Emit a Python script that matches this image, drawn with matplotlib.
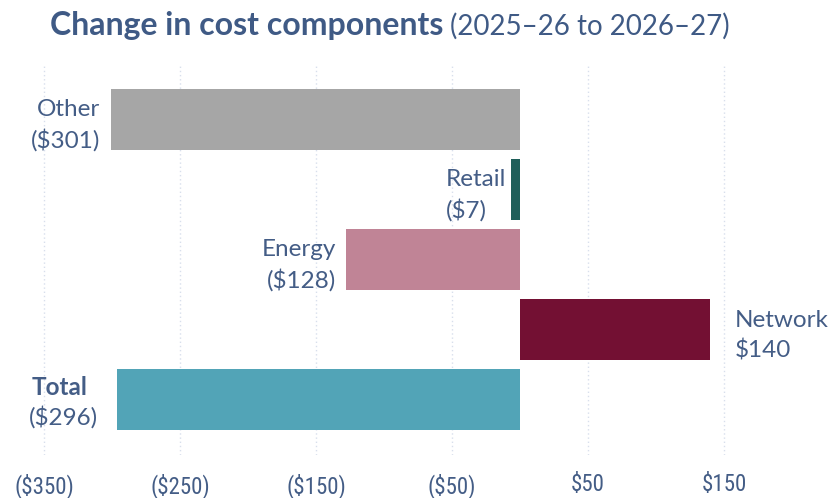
import matplotlib.pyplot as plt
from matplotlib import font_manager

# data
categories = ['Other', 'Retail', 'Energy', 'Network', 'Total']
values = [-301, -7, -128, 140, -296]
value_labels = ['($301)', '($7)', '($128)', '$140', '($296)']
colors = ['#a6a6a6', '#1f5f5a', '#c08496', '#731033', '#52a4b7']
tick_values = [-350, -250, -150, -50, 50, 150]
tick_labels = ['($350)', '($250)', '($150)', '($50)', '$50', '$150']

text_color = '#445d86'
installed = {f.name for f in font_manager.fontManager.ttflist}
base_font = 'Lato' if 'Lato' in installed else 'DejaVu Sans'
narrow = [n for n in ('Liberation Sans Narrow', 'Roboto Condensed', 'Open Sans Condensed') if n in installed]
tick_font = narrow[0] if narrow else base_font
tick_size = 16.5 if narrow else 15
plt.rcParams['font.family'] = [base_font, 'DejaVu Sans']

fig = plt.figure(figsize=(8.29, 4.98), dpi=100)
ax = fig.add_axes([0, 0.086, 1, 0.783])

ypos = list(range(len(categories)))
ax.barh(ypos, values, height=0.87, color=colors, zorder=3)

ax.set_xlim(-382.4, 227.2)
ax.set_ylim(4.79, -0.78)

ax.set_xticks(tick_values)
ax.set_xticklabels(tick_labels, fontsize=tick_size, color=text_color, family=tick_font)
ax.tick_params(axis='x', length=0, pad=13)
ax.set_yticks([])
for s in ax.spines.values():
    s.set_visible(False)
ax.grid(axis='x', color='#d8dfec', linestyle=(0, (1, 2)), linewidth=1, zorder=0)

# labels next to bars
lab = dict(fontsize=17.5, color=text_color, va='center', linespacing=1.45)
dy = 0.08
ax.text(-309, 0 + dy, categories[0] + '\n' + value_labels[0], ha='right', multialignment='right', **lab)
ax.text(-10, 1 + dy, categories[1] + '\n' + value_labels[1], ha='right', multialignment='left', **lab)
ax.text(-135, 2 + dy, categories[2] + '\n' + value_labels[2], ha='right', multialignment='right', **lab)
ax.text(158, 3 + dy, categories[3] + '\n' + value_labels[3], ha='left', multialignment='left', **lab)
ax.text(-359, 4 - 0.17, categories[4], ha='left', fontsize=17.5, color=text_color,
        va='center', fontweight='bold')
ax.text(-361, 4 + 0.25, value_labels[4], ha='left', fontsize=17.5, color=text_color, va='center')

# title: bold part then normal part
t1 = fig.text(0.06, 0.948, 'Change in cost components', fontsize=23, fontweight='bold',
              color='#3f5a85', va='center', ha='left')
fig.canvas.draw()
bb = t1.get_window_extent(renderer=fig.canvas.get_renderer())
x_end = bb.x1 / fig.bbox.width
fig.text(x_end + 0.008, 0.948, '(2025\u201326 to 2026\u201327)', fontsize=20,
         color='#3f5a85', va='center', ha='left')

fig.savefig('out.png', dpi=100)
